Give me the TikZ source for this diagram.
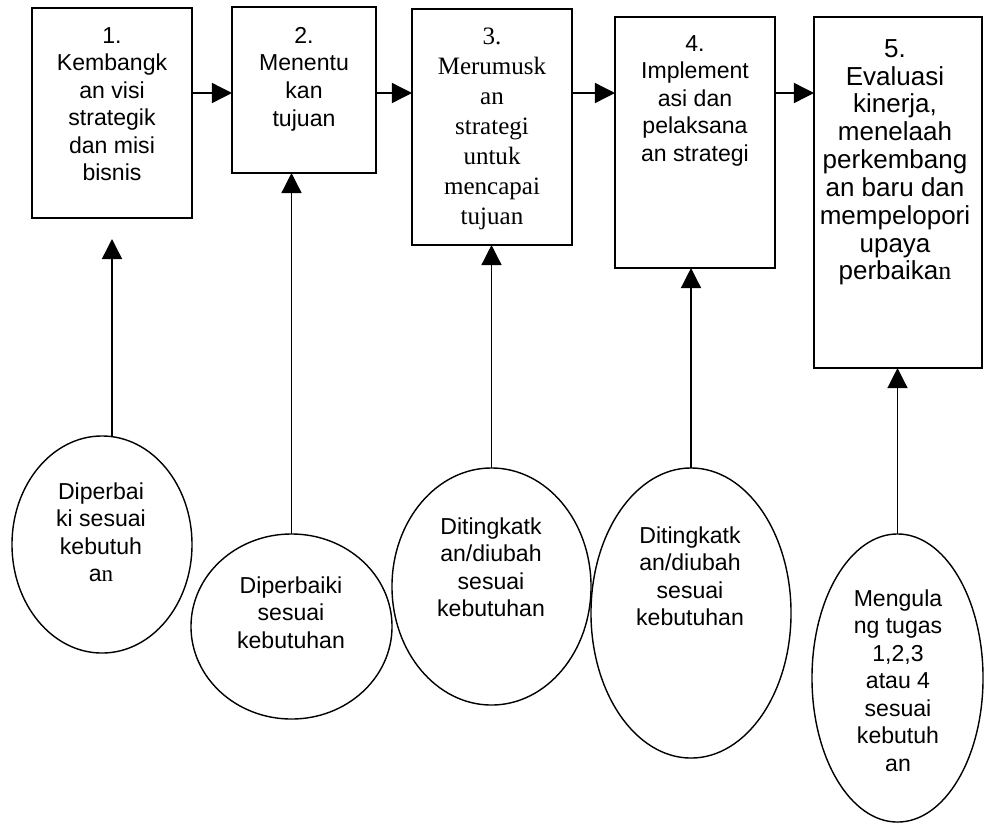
\documentclass[tikz,border=0pt]{standalone}
\usepackage{fontspec}
\setmainfont{Liberation Sans}
\newfontfamily\timesfont{Liberation Serif}
\usepackage{tikz}
\usetikzlibrary{shapes.geometric,arrows.meta}

\tikzset{
	kotak/.style={draw,rectangle,line width=1.2pt,outer sep=0pt,inner sep=0pt},
	oval/.style={draw,ellipse,line width=1pt,outer sep=0pt,inner sep=0pt},
	teks/.style={anchor=north,align=center,inner sep=0pt,font=\fontsize{16.4}{19.6}\selectfont},
	panah/.style={line width=1pt,arrows={-Triangle[length=0.5cm,width=0.5cm]}}
}

\begin{document}
\begin{tikzpicture}[x=0.025cm,y=-0.025cm]
			\useasboundingbox (0,0) rectangle (984,823);
			
			\node[kotak,minimum width=4cm,minimum height=5.25cm] (k1) at (112,113) {};
			\node[teks] (t1) at (112,27) {1.\\Kembangk\\an visi\\strategik\\dan misi\\bisnis};
			
			\node[kotak,minimum width=3.6cm,minimum height=4.15cm] (k2) at (304,90) {};
			\node[teks] (t2) at (304,27) {2.\\Menentu\\kan\\tujuan};
			
			\node[kotak,minimum width=4cm,minimum height=5.9cm] (k3) at (492,127) {};
			\node[teks,font=\timesfont\fontsize{17.8}{21.3}\selectfont] (t3) at (492,28) {3.\\Merumusk\\an\\strategi\\untuk\\mencapai\\tujuan};
			
			\node[kotak,minimum width=4cm,minimum height=6.275cm] (k4) at (695,142.5) {};
			\node[teks] (t4) at (695,35) {4.\\Implement\\asi dan\\pelaksana\\an strategi};
			
			\node[kotak,minimum width=4.2cm,minimum height=8.775cm] (k5) at (898,192.5) {};
			\node[teks,font=\fontsize{18.5}{19.8}\selectfont] (t5) at (895,39) {5.\\Evaluasi\\kinerja,\\menelaah\\perkembang\\an baru dan\\mempelopori\\upaya\\perbaika{\timesfont n}};
			
			\coordinate (r) at (0,93);
			\draw[panah] (k1.east |- r) -- (k2.west |- r);
			\draw[panah] (k2.east |- r) -- (k3.west |- r);
			\draw[panah] (k3.east |- r) -- (k4.west |- r);
			\draw[panah] (k4.east |- r) -- (k5.west |- r);
			
			\node[oval,minimum width=4.5cm,minimum height=5.425cm] (e1) at (102,544.5) {};
			\node[teks] (u1) at (101,482) {Diperbai\\ki sesuai\\kebutuh\\a{\timesfont n}};
			
			\node[oval,minimum width=5.025cm,minimum height=4.625cm] (e2) at (291.5,626.5) {};
			\node[teks] (u2) at (291,576) {Diperbaiki\\sesuai\\kebutuhan};
			
			\node[oval,minimum width=4.975cm,minimum height=5.925cm] (e3) at (491.5,586.5) {};
			\node[teks] (u3) at (491,517) {Ditingkatk\\an/diubah\\sesuai\\kebutuhan};
			
			\node[oval,minimum width=5cm,minimum height=7.25cm] (e4) at (691,613) {};
			\node[teks] (u4) at (690,526) {Ditingkatk\\an/diubah\\sesuai\\kebutuhan};
			
			\node[oval,minimum width=4.275cm,minimum height=7.2cm] (e5) at (897.5,678) {};
			\node[teks] (u5) at (898,589) {Mengula\\ng tugas\\1,2,3\\atau 4\\sesuai\\kebutuh\\an};
			
			\coordinate (a1) at (112,239);
			\draw[panah] (e1.north -| k1.south) -- (a1);
			\draw[panah] (e2.north) -- (e2.north |- k2.south);
			\draw[panah] (e3.north) -- (e3.north |- k3.south);
			\draw[panah] (e4.north) -- (e4.north |- k4.south);
			\draw[panah] (e5.north) -- (e5.north |- k5.south);
			
		\end{tikzpicture}
\end{document}
